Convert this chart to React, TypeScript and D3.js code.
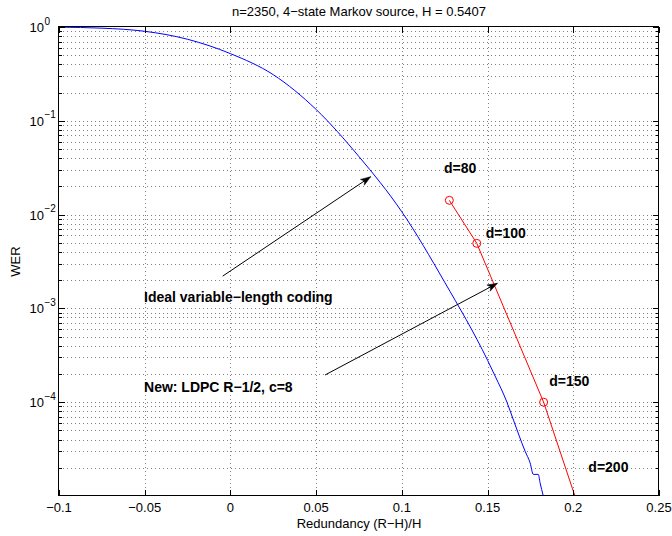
import React from "react";
import * as d3 from "d3";

// ---- data ----
const xTicks = [-0.1, -0.05, 0, 0.05, 0.1, 0.15, 0.2, 0.25];
const xTickLabels = ["\u22120.1", "\u22120.05", "0", "0.05", "0.1", "0.15", "0.2", "0.25"];
const yTickExps = [0, -1, -2, -3, -4];
const yTickExpLabels = ["0", "\u22121", "\u22122", "\u22123", "\u22124"];

// Ideal variable-length coding (blue)
const idealX = [
  -0.1, -0.075, -0.05, -0.025, 0, 0.025, 0.05, 0.075, 0.1, 0.125, 0.15, 0.1544, 0.1613,
  0.1651, 0.1719, 0.1748, 0.1767, 0.1796, 0.1806, 0.1825,
];
const idealWER = [
  0.996, 0.972, 0.9, 0.74, 0.52, 0.31, 0.132, 0.0415, 0.0107, 1.9e-3, 2.8e-4, 1.9e-4, 1.0e-4,
  6.45e-5, 3.0e-5, 2.26e-5, 1.7e-5, 1.7e-5, 1.39e-5, 1.0e-5,
];

// New: LDPC (red)
const ldpcD = [80, 100, 150, 200];
const ldpcX = [0.1277, 0.1437, 0.1827, 0.2192];
const ldpcWER = [0.0142, 0.00494, 1.0e-4, 1.0e-6];

// Annotations (data coordinates)
const labelTexts = ["d=80", "d=100", "d=150", "d=200", "Ideal variable\u2212length coding", "New: LDPC R\u22121/2, c=8"];
const labelX = [0.1246, 0.1489, 0.186, 0.2088, -0.0504, -0.0504];
const labelY = [0.028, 5.67e-3, 1.5e-4, 1.79e-5, 1.18e-3, 1.29e-4];

const arrowFromX = [-0.0045, 0.0552];
const arrowFromY = [2.21e-3, 1.95e-4];
const arrowToX = [0.0818, 0.1557];
const arrowToY = [0.02535, 1.85e-3];

const titleText = "n=2350, 4\u2212state Markov source, H = 0.5407";
const xLabelText = "Redundancy (R\u2212H)/H";
const yLabelText = "WER";

const W = 672;
const H = 536;
const L = 59, R = 659, T = 27, B = 496;
const FONT = "'Liberation Sans', Arial, Helvetica, sans-serif";

export default function App() {
  const x = d3.scaleLinear().domain([-0.1, 0.25]).range([L, R]);
  const y = d3.scaleLog().domain([1e-5, 1]).range([B, T]);

  const smoothLine = d3
    .line<[number, number]>()
    .x((d) => x(d[0]))
    .y((d) => y(d[1]))
    .curve(d3.curveMonotoneX);
  const line = d3
    .line<[number, number]>()
    .x((d) => x(d[0]))
    .y((d) => y(d[1]));

  const idealPts: [number, number][] = idealX.map((v, i) => [v, idealWER[i]]);
  const ldpcPts: [number, number][] = ldpcX.map((v, i) => [v, ldpcWER[i]]);

  const minorVals: number[] = [];
  for (let e = -5; e <= -1; e++) for (let k = 2; k <= 9; k++) minorVals.push(k * Math.pow(10, e));
  const majorVals = [1e-4, 1e-3, 1e-2, 1e-1];

  const gridColor = "#808080";
  const r = (v: number) => Math.round(v) + 0.5;

  const arrowHead = (x1: number, y1: number, x2: number, y2: number) => {
    const ang = Math.atan2(y2 - y1, x2 - x1);
    const len = 10, hw = 3.5, notch = 7.5;
    const c = Math.cos(ang), s = Math.sin(ang);
    const bx = x2 - len * c, by = y2 - len * s;
    const nx = x2 - notch * c, ny = y2 - notch * s;
    const p1 = [bx - hw * -s, by - hw * c];
    const p2 = [bx + hw * -s, by + hw * c];
    return `M${x2},${y2}L${p1[0]},${p1[1]}L${nx},${ny}L${p2[0]},${p2[1]}Z`;
  };

  return (
    <svg
      width={W}
      height={H}
      style={{ position: "absolute", left: 0, top: 0, background: "#fff", display: "block" }}
      fontFamily={FONT}
    >
      <rect x={0} y={0} width={W} height={H} fill="#fff" />
      <defs>
        <clipPath id="plotclip">
          <rect x={L} y={T} width={R - L} height={B - T} />
        </clipPath>
      </defs>

      {/* grid */}
      <g stroke={gridColor} strokeWidth={1} strokeDasharray="1,3" shapeRendering="crispEdges">
        {xTicks.slice(1, -1).map((t, i) => (
          <line key={"vx" + i} x1={r(x(t))} x2={r(x(t))} y1={T} y2={B} />
        ))}
        {minorVals.concat(majorVals).map((v, i) => (
          <line key={"hy" + i} x1={L} x2={R} y1={r(y(v))} y2={r(y(v))} />
        ))}
      </g>

      {/* series */}
      <g clipPath="url(#plotclip)">
        <path d={smoothLine(idealPts) || ""} fill="none" stroke="#0000ff" strokeWidth={1} />
        <path d={line(ldpcPts) || ""} fill="none" stroke="#ff0000" strokeWidth={1} />
        {ldpcPts.map((p, i) => (
          <circle key={"m" + ldpcD[i]} cx={x(p[0])} cy={y(p[1])} r={4} fill="none" stroke="#ff0000" strokeWidth={1} />
        ))}
      </g>

      {/* axes box and ticks */}
      <g stroke="#000" strokeWidth={1} shapeRendering="crispEdges" fill="none">
        <rect x={r(L) - 1} y={r(T) - 1} width={Math.round(R - L)} height={Math.round(B - T)} />
        {xTicks.map((t, i) => (
          <g key={"xt" + i}>
            <line x1={r(x(t))} x2={r(x(t))} y1={B} y2={B - 6} />
            <line x1={r(x(t))} x2={r(x(t))} y1={T} y2={T + 6} />
          </g>
        ))}
        {yTickExps.map((e, i) => (
          <g key={"yt" + i}>
            <line x1={L} x2={L + 6} y1={r(y(Math.pow(10, e)))} y2={r(y(Math.pow(10, e)))} />
            <line x1={R} x2={R - 6} y1={r(y(Math.pow(10, e)))} y2={r(y(Math.pow(10, e)))} />
          </g>
        ))}
        {minorVals.map((v, i) => (
          <g key={"ym" + i}>
            <line x1={L} x2={L + 3} y1={r(y(v))} y2={r(y(v))} />
            <line x1={R} x2={R - 3} y1={r(y(v))} y2={r(y(v))} />
          </g>
        ))}
      </g>

      {/* tick labels */}
      <g fontSize={13} fill="#000">
        {xTicks.map((t, i) => (
          <text key={"xl" + i} x={x(t)} y={B + 16} textAnchor="middle">
            {xTickLabels[i]}
          </text>
        ))}
        {yTickExps.map((e, i) => {
          const py = y(Math.pow(10, e));
          return (
            <g key={"yl" + i}>
              <text x={44} y={py + 5} textAnchor="end">10</text>
              <text x={44.5} y={py - 2.5} fontSize={10}>{yTickExpLabels[i]}</text>
            </g>
          );
        })}
      </g>

      {/* title and axis labels */}
      <text x={(L + R) / 2} y={16} textAnchor="middle" fontSize={13}>{titleText}</text>
      <text x={(L + R) / 2} y={527.5} textAnchor="middle" fontSize={13}>{xLabelText}</text>
      <text
        transform={`translate(20,${(T + B) / 2}) rotate(-90)`}
        textAnchor="middle"
        fontSize={13}
      >
        {yLabelText}
      </text>

      {/* annotations */}
      <g fontSize={14} fontWeight="bold" fill="#000">
        {labelTexts.map((t, i) => (
          <text key={"a" + i} x={x(labelX[i])} y={y(labelY[i])}>{t}</text>
        ))}
      </g>
      <g>
        {arrowFromX.map((_, i) => {
          const x1 = x(arrowFromX[i]), y1 = y(arrowFromY[i]);
          const x2 = x(arrowToX[i]), y2 = y(arrowToY[i]);
          return (
            <g key={"ar" + i}>
              <line x1={x1} y1={y1} x2={x2} y2={y2} stroke="#000" strokeWidth={1} />
              <path d={arrowHead(x1, y1, x2, y2)} fill="#000" stroke="#000" strokeWidth={0.5} />
            </g>
          );
        })}
      </g>
    </svg>
  );
}
